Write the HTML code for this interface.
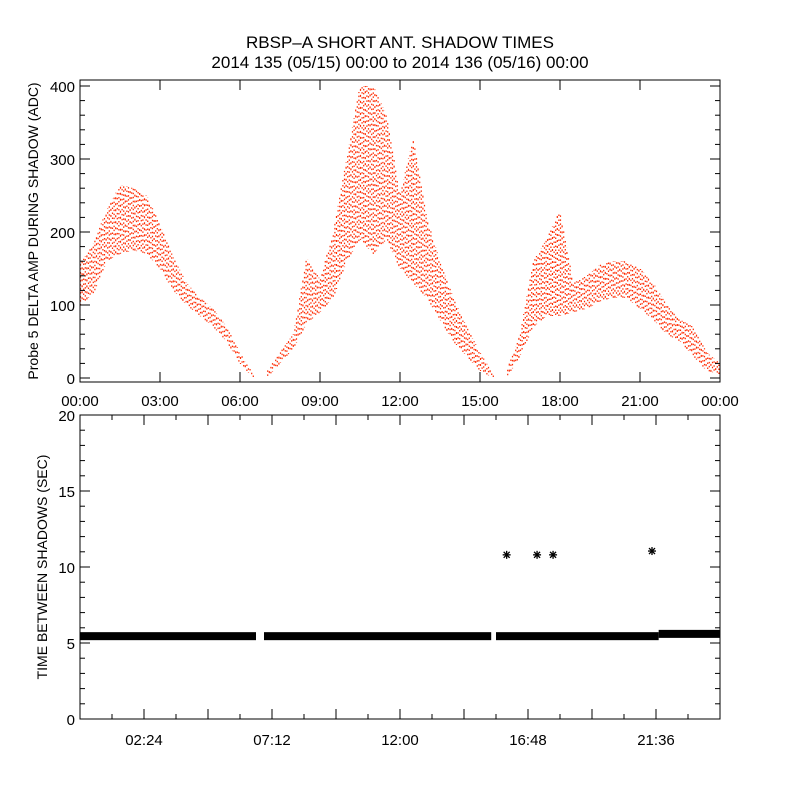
<!DOCTYPE html>
<html><head><meta charset="utf-8"><style>
body{margin:0;background:#fff}
svg text{font-family:"Liberation Sans",sans-serif;fill:#000}
</style></head><body>
<svg id="c" width="800" height="800" xmlns="http://www.w3.org/2000/svg">
<rect width="800" height="800" fill="#fff"/>
<text x="400" y="48" font-size="17" text-anchor="middle">RBSP–A SHORT ANT. SHADOW TIMES</text>
<text x="400" y="68" font-size="17" text-anchor="middle">2014 135 (05/15) 00:00 to 2014 136 (05/16) 00:00</text>
<g id="topPanel"></g><g id="botPanel"></g>
</svg>
<script>
// Top panel: envelope of probe 5 delta amplitude (ADC)
const ampHours = [0,0.5,1,1.5,2,2.5,3,3.5,4,4.5,5,5.5,6,6.5,7,7.5,8,8.5,9,9.5,10,10.5,11,11.5,12,12.5,13,13.5,14,14.5,15,15.5,16,16.5,17,17.5,18,18.5,19,19.5,20,20.5,21,21.5,22,22.5,23,23.5,24];
const ampLow  = [100,115,160,170,175,170,150,120,100,85,70,50,20,0,0,20,40,75,90,110,160,190,170,190,150,130,110,80,50,30,10,0,0,30,70,85,85,90,95,105,110,110,95,80,60,50,30,10,5];
const ampHigh = [155,185,230,265,260,250,210,165,130,110,95,70,35,5,10,35,60,165,135,200,300,400,400,360,250,330,220,160,110,70,35,5,10,60,160,190,230,130,140,155,160,160,150,130,100,80,70,35,20];
const gapRanges = [[6.5,7],[15.5,16]];
const topYTicks = [0,100,200,300,400];
const topXLabels = ["00:00","03:00","06:00","09:00","12:00","15:00","18:00","21:00","00:00"];
// Bottom panel: time between shadows (sec)
const bandStart = [0,6.9,15.6,21.7];
const bandEnd   = [6.6,15.42,21.7,24];
const bandValue = [5.45,5.45,5.45,5.6];
const starHours = [16.0,17.14,17.74,21.45];
const starValues= [10.8,10.8,10.8,11.05];
const botYTicks = [0,5,10,15,20];
const botXLabels = ["02:24","07:12","12:00","16:48","21:36"];

const NS="http://www.w3.org/2000/svg";
function mk(p,t,a){const e=document.createElementNS(NS,t);for(const k in a)e.setAttribute(k,a[k]);p.appendChild(e);return e;}
const L=80,R=720;
const xs=h=>L+h/24*(R-L);
const yT=v=>378-v*0.73;
const yB=v=>719-v*15.2;
const topG=document.getElementById('topPanel'),botG=document.getElementById('botPanel');

// top data
let n=0;
for(let x=L+0.5;x<=R;x+=1.6){
  n++;
  const h=(x-L)/(R-L)*24;
  if(gapRanges.some(g=>h>g[0]+0.05&&h<g[1]-0.02))continue;
  let i=Math.min(Math.floor(h/0.5),ampHours.length-2);
  const t=(h-ampHours[i])/(ampHours[i+1]-ampHours[i]);
  const lo=ampLow[i]+(ampLow[i+1]-ampLow[i])*t, hi=ampHigh[i]+(ampHigh[i+1]-ampHigh[i])*t;
  const l=mk(topG,'line',{x1:x,x2:x,y1:Math.min(yT(lo),377),y2:Math.max(yT(hi),80),stroke:'#ff2a00','stroke-width':1.2,'stroke-dasharray':(n%3==0?'1.5 3.5':(n%3==1?'1.5 2.5':'2 4')),'stroke-dashoffset':n%5});
  
  
}
// top axes
let f=mk(topG,'rect',{x:L,y:80,width:R-L,height:302,fill:'none',stroke:'#000','stroke-width':1});


for(let v=0;v<=400;v+=20){const y=yT(v),len=v%100==0?10:5;
  mk(topG,'line',{x1:L,x2:L+len,y1:y,y2:y,stroke:'#000'});mk(topG,'line',{x1:R,x2:R-len,y1:y,y2:y,stroke:'#000'});}
topYTicks.forEach(v=>{const t=mk(topG,'text',{x:L-5,y:yT(v)+6,'font-size':15,'text-anchor':'end'});t.textContent=v;
  
  });
topXLabels.forEach((s,i)=>{const x=xs(i*3);
  mk(topG,'line',{x1:x,x2:x,y1:382,y2:372,stroke:'#000'});mk(topG,'line',{x1:x,x2:x,y1:80,y2:90,stroke:'#000'});
  const t=mk(topG,'text',{x:x,y:406,'font-size':15,'text-anchor':'middle'});t.textContent=s;
  
  });
let yt=mk(topG,'text',{x:0,y:0,'font-size':14,'text-anchor':'middle',transform:'translate(38,231) rotate(-90)'});
yt.textContent='Probe 5 DELTA AMP DURING SHADOW (ADC)';



// bottom data
bandStart.forEach((s,i)=>{const r=mk(botG,'rect',{x:xs(s),y:yB(bandValue[i])-4,width:xs(bandEnd[i])-xs(s),height:8,fill:'#000'});
  
  });
starHours.forEach((h,i)=>{
  const g=mk(botG,'g',{transform:'translate('+xs(h)+','+yB(starValues[i])+')'});
  
  
  [[-4,0,4,0],[0,-4,0,4],[-3,-3,3,3],[-3,3,3,-3]].forEach(s=>mk(g,'line',{x1:s[0],y1:s[1],x2:s[2],y2:s[3],stroke:'#000','stroke-width':1.3}));
});
f=mk(botG,'rect',{x:L,y:415,width:R-L,height:304,fill:'none',stroke:'#000','stroke-width':1});


for(let v=0;v<=20;v+=1){const y=yB(v),len=v%5==0?10:5;
  mk(botG,'line',{x1:L,x2:L+len,y1:y,y2:y,stroke:'#000'});mk(botG,'line',{x1:R,x2:R-len,y1:y,y2:y,stroke:'#000'});}
botYTicks.forEach(v=>{const t=mk(botG,'text',{x:L-5,y:yB(v)+6,'font-size':15,'text-anchor':'end'});t.textContent=v;
  
  });
for(let k=1;k<20;k++){const x=xs(k*1.2),len=k%2==0?10:5;
  mk(botG,'line',{x1:x,x2:x,y1:719,y2:719-len,stroke:'#000'});mk(botG,'line',{x1:x,x2:x,y1:415,y2:415+len,stroke:'#000'});}
botXLabels.forEach((s,i)=>{const t=mk(botG,'text',{x:xs(2.4+i*4.8),y:745,'font-size':15,'text-anchor':'middle'});t.textContent=s;
  
  });
yt=mk(botG,'text',{x:0,y:0,'font-size':14,'text-anchor':'middle',transform:'translate(47,567) rotate(-90)'});
yt.textContent='TIME BETWEEN SHADOWS (SEC)';


</script>
</body></html>
